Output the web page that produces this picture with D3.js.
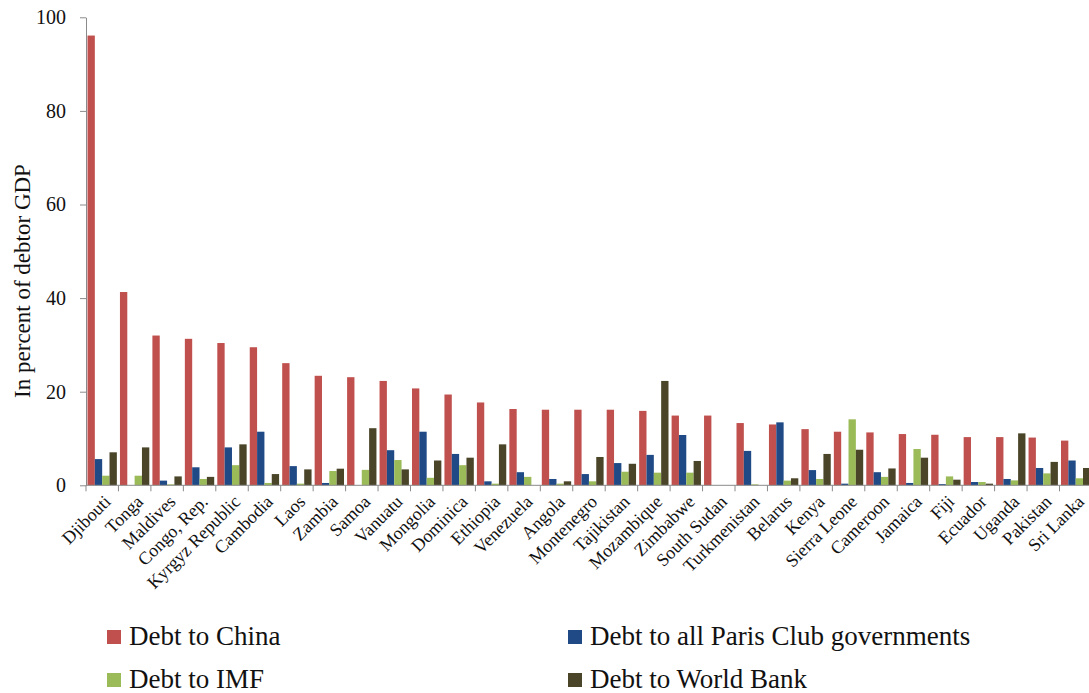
<!DOCTYPE html>
<html><head><meta charset="utf-8">
<script src="https://cdn.jsdelivr.net/npm/d3@7"></script>
<style>
body{margin:0;background:#fff;}
svg text, svg .tick text { font-family: "Liberation Serif", "Times New Roman", serif !important; }
</style>
</head><body>
<svg id="c" width="1089" height="693" font-family="Liberation Serif"></svg>
<script>
const categories = ["Djibouti","Tonga","Maldives","Congo, Rep.","Kyrgyz Republic","Cambodia","Laos","Zambia","Samoa","Vanuatu","Mongolia","Dominica","Ethiopia","Venezuela","Angola","Montenegro","Tajikistan","Mozambique","Zimbabwe","South Sudan","Turkmenistan","Belarus","Kenya","Sierra Leone","Cameroon","Jamaica","Fiji","Ecuador","Uganda","Pakistan","Sri Lanka"];
const china     = [96.1,41.3,32.0,31.3,30.4,29.5,26.1,23.4,23.1,22.3,20.7,19.4,17.7,16.3,16.15,16.15,16.15,15.9,14.9,14.9,13.3,13.0,12.0,11.45,11.3,10.95,10.8,10.3,10.3,10.2,9.55];
const parisClub = [5.6,0,1.0,3.85,8.1,11.45,4.1,0.5,0,7.5,11.45,6.7,0.85,2.8,1.35,2.4,4.75,6.5,10.75,0,7.35,13.45,3.25,0.35,2.8,0.5,0.25,0.7,1.35,3.7,5.3];
const imf       = [2.05,2.05,0.2,1.35,4.3,0.5,0.35,3.05,3.3,5.4,1.6,4.3,0.35,1.8,0.35,0.85,2.9,2.7,2.7,0,0.2,1.0,1.35,14.1,1.8,7.75,1.9,0.7,1.05,2.55,1.5];
const worldBank = [7.05,8.1,1.9,1.8,8.75,2.4,3.4,3.55,12.2,3.4,5.3,5.9,8.75,0,0.85,6.05,4.6,22.3,5.2,0,0,1.5,6.7,7.6,3.6,5.9,1.2,0.35,11.1,5.0,3.7];
const seriesNames = ["Debt to China","Debt to all Paris Club governments","Debt to IMF","Debt to World Bank"];
const seriesColors = ["#C0504D","#1F4A86","#9BBB59","#4A4428"];
const yTicks = [0,20,40,60,80,100];

const FONT = "Liberation Serif";
const seriesData = [china, parisClub, imf, worldBank];
const svg = d3.select("#c");
const bw = 32.45;
const x0 = d3.scaleBand().domain(categories).range([86, 86 + bw*categories.length]).padding(0);
const x1 = d3.scaleBand().domain(d3.range(4)).range([1.5, bw-1.6]).padding(0);
const y = d3.scaleLinear().domain([0,100]).range([485.3, 17.3]);

// bars
const g = svg.append("g");
categories.forEach((c,i)=>{
  const cg = g.append("g").attr("transform",`translate(${x0(c)},0)`);
  cg.selectAll("rect").data(seriesData.map((s,k)=>({k,v:s[i]}))).join("rect")
    .attr("x",d=>x1(d.k)).attr("width",x1.bandwidth())
    .attr("y",d=>y(d.v)).attr("height",d=>y(0)-y(d.v))
    .attr("fill",d=>seriesColors[d.k]);
});

// y axis
const ya = svg.append("g").attr("transform","translate(86,0)")
  .call(d3.axisLeft(y).tickValues(yTicks).tickSize(6).tickPadding(14).tickSizeOuter(0));
ya.attr("font-family",FONT).attr("font-size",20);
ya.select(".domain").attr("stroke","#8a8a8a");
ya.selectAll(".tick line").attr("stroke","#8a8a8a");
ya.selectAll("text").attr("font-family",FONT).attr("font-size",20).attr("fill","#111");

// x axis line
svg.append("line").attr("x1",86).attr("x2",1089).attr("y1",y(0)).attr("y2",y(0)).attr("stroke","#8a8a8a");
svg.selectAll(".xt").data(categories.concat(["_end"])).join("line").attr("class","xt")
  .attr("x1",(d,i)=>86+i*bw).attr("x2",(d,i)=>86+i*bw)
  .attr("y1",y(0)).attr("y2",y(0)+6).attr("stroke","#8a8a8a");

// x labels
svg.selectAll(".xl").data(categories).join("text").attr("class","xl")
  .attr("transform",d=>`translate(${x0(d)+x0.bandwidth()/2+5},${y(0)+13}) rotate(-45)`)
  .attr("text-anchor","end").attr("dy","0.35em")
  .attr("font-family",FONT).attr("font-size",18).attr("fill","#111").text(d=>d);

// y title
svg.append("text").attr("transform","translate(30,281) rotate(-90)")
  .attr("text-anchor","middle").attr("font-family",FONT).attr("font-size",23).attr("fill","#111")
  .text("In percent of debtor GDP");

// legend
const legPos = [[107,645],[568,645],[107,688],[568,688]];
const lg = svg.selectAll(".lg").data(seriesNames).join("g").attr("class","lg")
  .attr("transform",(d,i)=>`translate(${legPos[i][0]},${legPos[i][1]})`);
lg.append("rect").attr("x",0).attr("y",-15).attr("width",14).attr("height",14).attr("fill",(d,i)=>seriesColors[i]);
lg.append("text").attr("x",22).attr("font-family",FONT).attr("font-size",27).attr("fill","#111").text(d=>d);
</script>
</body></html>
